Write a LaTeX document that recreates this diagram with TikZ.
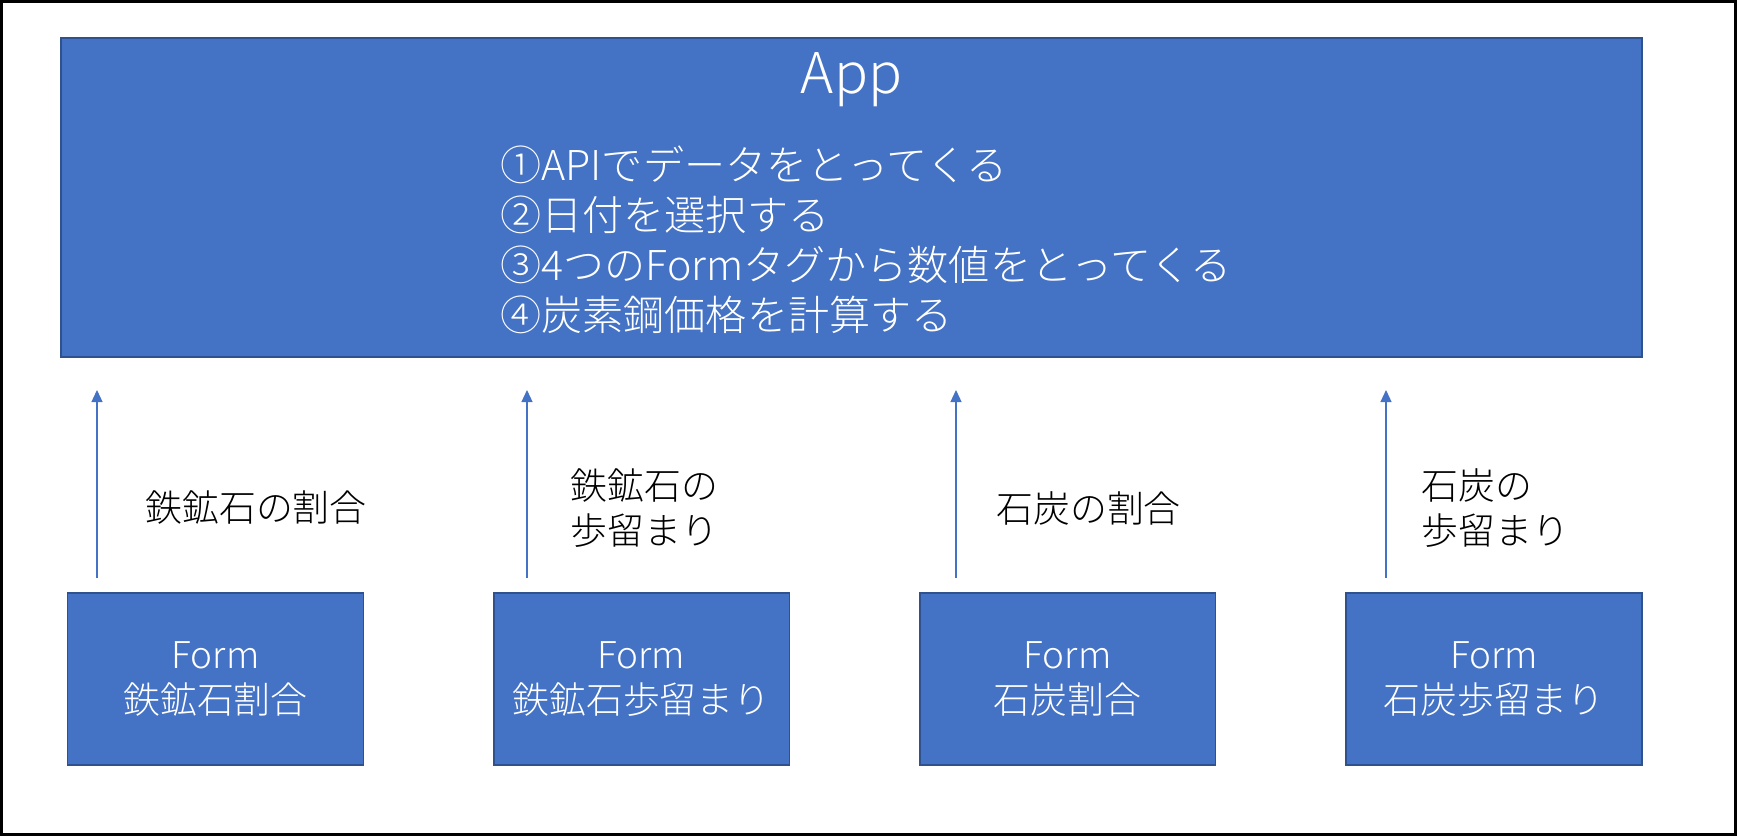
\documentclass[tikz,border=0pt]{standalone}
\usepackage{fontspec}
\setmainfont{Noto Sans CJK JP Light}
\usepackage{tikz}
\usetikzlibrary{arrows.meta,positioning}
\definecolor{apblue}{RGB}{68,114,196}
\definecolor{apedge}{RGB}{47,82,143}

\begin{document}
\begin{tikzpicture}[
  x=0.02cm,y=-0.02cm,
  box/.style={draw=apedge,line width=1.1pt,fill=apblue,text=white,
              align=center,font=\fontsize{21}{25.5}\selectfont,inner sep=0pt},
  formbox/.style={box,minimum width=5.92cm,minimum height=3.44cm},
  lbl/.style={anchor=west,align=left,inner sep=0pt,font=\fontsize{21}{25.5}\selectfont},
  arr/.style={-{Triangle[length=2.4mm,width=2.2mm]},line width=0.7pt,color=apblue}]

  \useasboundingbox (0,0) rectangle (1737,836);
  \draw[line width=1.7pt] (1.5,1.5) rectangle (1735.5,834.5);

  \node[box,minimum width=31.62cm,minimum height=6.38cm] (app) at (851.5,197.5) {};
  \node[text=white,inner sep=0pt,font=\fontsize{32}{38}\selectfont] (apptitle) at (851.5,80) {App};
  \node[text=white,anchor=west,align=left,inner sep=0pt,font=\fontsize{23.4}{28.5}\selectfont]
    (steps) at (500,240) {①APIでデータをとってくる\\②日付を選択する\\③4つのFormタグから数値をとってくる\\④炭素鋼価格を計算する};

  \node[formbox] (fe) at (215.5,679) {Form\\鉄鉱石割合};
  \node[formbox] (feyld) at (641.5,679) {Form\\鉄鉱石歩留まり};
  \node[formbox] (co) at (1067.5,679) {Form\\石炭割合};
  \node[formbox] (coyld) at (1494,679) {Form\\石炭歩留まり};

  \coordinate (s1) at (97,578);   \coordinate (t1) at (97,390);
  \coordinate (s2) at (527,578);  \coordinate (t2) at (527,390);
  \coordinate (s3) at (956,578);  \coordinate (t3) at (956,390);
  \coordinate (s4) at (1386,578); \coordinate (t4) at (1386,390);
  \draw[arr] (s1) -- (t1);
  \draw[arr] (s2) -- (t2);
  \draw[arr] (s3) -- (t3);
  \draw[arr] (s4) -- (t4);

  \node[lbl] (lfe) at (145,508) {鉄鉱石の割合};
  \node[lbl] (lfeyld) at (570,508) {鉄鉱石の\\歩留まり};
  \node[lbl] (lco) at (996,508) {石炭の割合};
  \node[lbl] (lcoyld) at (1421,508) {石炭の\\歩留まり};
\end{tikzpicture}
\end{document}
